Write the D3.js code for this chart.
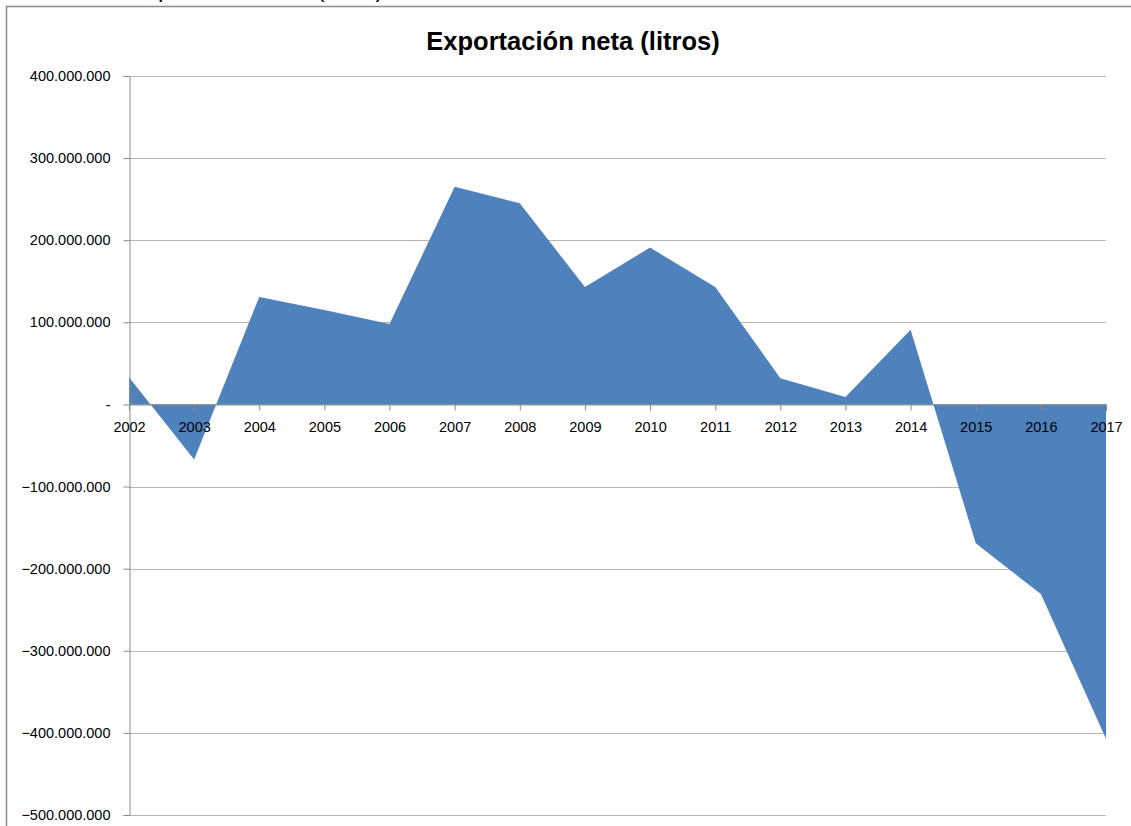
<!DOCTYPE html>
<html>
<head>
<meta charset="utf-8">
<script src="https://cdn.jsdelivr.net/npm/d3@7"></script>
<style>
  body { margin: 0; background: #fff; }
  text { font-family: "Liberation Sans", Arial, sans-serif; }
</style>
</head>
<body>
<script>
// net exports per year, litres
const years = ["2002","2003","2004","2005","2006","2007","2008","2009","2010","2011","2012","2013","2014","2015","2016","2017"];
const netExport = [33e6, -67e6, 131e6, 115e6, 98e6, 265e6, 245e6, 143e6, 191e6, 143e6, 32e6, 9e6, 91e6, -169e6, -231e6, -407e6];
const yTicks = [400e6, 300e6, 200e6, 100e6, 0, -100e6, -200e6, -300e6, -400e6, -500e6];
const title = "Exportación neta (litros)";

const width = 1131, height = 826;
const margin = { left: 129, right: 25, top: 76, bottom: 11 };

const svg = d3.select("body").append("svg")
  .attr("width", width)
  .attr("height", height);

// chart frame, cut by the window on the right and bottom
svg.append("rect")
  .attr("x", 6.5).attr("y", 6.5)
  .attr("width", width + 20).attr("height", height + 20)
  .attr("fill", "none")
  .attr("stroke", "#8a8a8a")
  .attr("stroke-width", 1.5);

// caption above the frame, mostly outside the window
svg.append("text")
  .attr("x", 130).attr("y", -3)
  .attr("font-size", 24)
  .attr("fill", "#000")
  .text(title);

const x = d3.scalePoint()
  .domain(years)
  .range([margin.left, width - margin.right]);

const y = d3.scaleLinear()
  .domain([-500e6, 400e6])
  .range([height - margin.bottom, margin.top]);

const locale = d3.formatLocale({ decimal: ",", thousands: ".", grouping: [3], currency: ["", ""] });
const fmt = locale.format(",.0f");

// gridlines
svg.append("g")
  .selectAll("line")
  .data(yTicks)
  .join("line")
  .attr("x1", margin.left)
  .attr("x2", width - margin.right)
  .attr("y1", d => Math.round(y(d)) + 0.5)
  .attr("y2", d => Math.round(y(d)) + 0.5)
  .attr("stroke", "#b5b5b5")
  .attr("stroke-width", 1);

// area
const area = d3.area()
  .x((d, i) => x(years[i]))
  .y0(y(0))
  .y1(d => y(d));

svg.append("path")
  .datum(netExport)
  .attr("d", area)
  .attr("fill", "#4f81bd");

// y axis
const yAxis = svg.append("g")
  .attr("transform", `translate(${margin.left + 0.5},0)`)
  .call(d3.axisLeft(y).tickValues(yTicks).tickSize(6).tickPadding(13)
    .tickFormat(d => d === 0 ? "-" : fmt(d)));
yAxis.select(".domain").attr("stroke", "#8a8a8a");
yAxis.selectAll(".tick line").attr("stroke", "#8a8a8a");
yAxis.selectAll(".tick text")
  .attr("font-size", 14.5)
  .attr("font-family", "Liberation Sans, Arial, sans-serif")
  .attr("fill", "#000");

// x axis on the zero line
const xAxis = svg.append("g")
  .attr("transform", `translate(0,${Math.round(y(0)) + 0.5})`)
  .call(d3.axisBottom(x).tickSize(6).tickPadding(11));
xAxis.select(".domain").attr("stroke", "#8a8a8a");
xAxis.selectAll(".tick line").attr("stroke", "#8a8a8a");
xAxis.selectAll(".tick text")
  .attr("font-size", 14.5)
  .attr("font-family", "Liberation Sans, Arial, sans-serif")
  .attr("fill", "#000");

// title
svg.append("text")
  .attr("x", 573)
  .attr("y", 50)
  .attr("text-anchor", "middle")
  .attr("font-size", 25.5)
  .attr("font-weight", "bold")
  .attr("fill", "#000")
  .text(title);
</script>
</body>
</html>
